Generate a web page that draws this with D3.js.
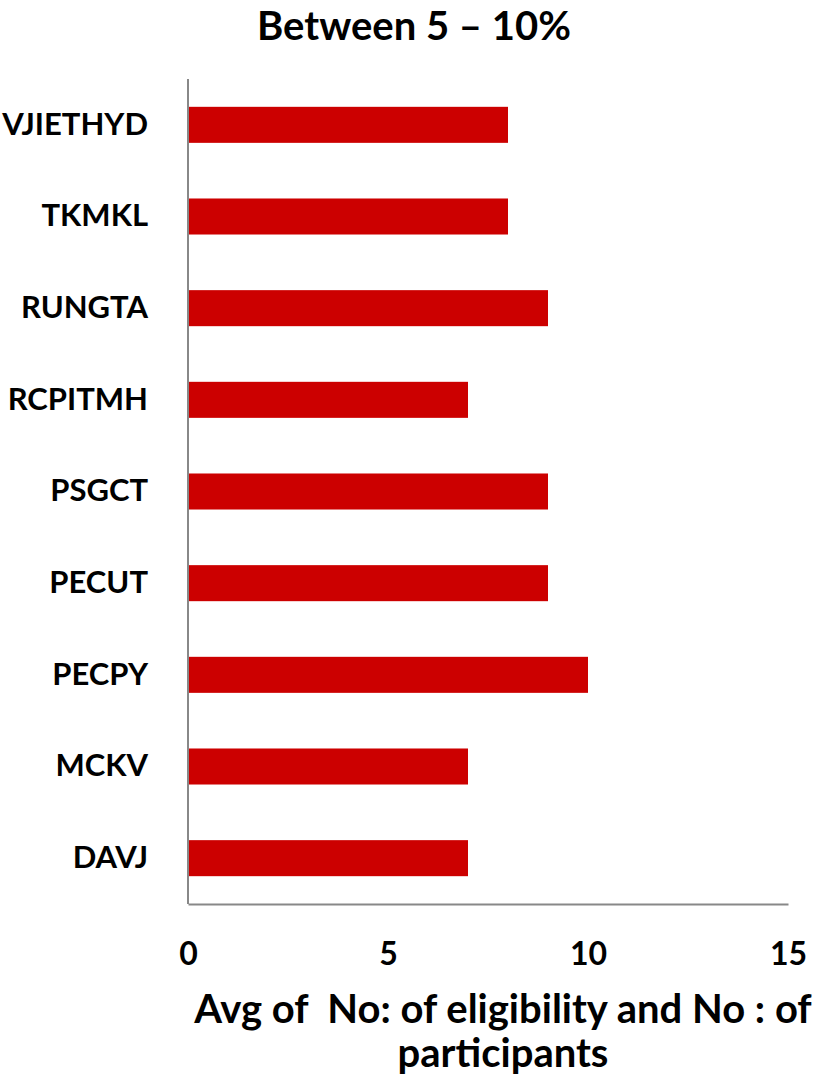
<!DOCTYPE html>
<html>
<head>
<meta charset="utf-8">
<script src="https://cdn.jsdelivr.net/npm/d3@7"></script>
<style>
  html, body { margin: 0; padding: 0; background: #fff; }
  svg text { font-family: Lato, "Open Sans", sans-serif; font-weight: bold; fill: #000; white-space: pre; }
</style>
</head>
<body>
<svg id="chart" width="814" height="1083"></svg>
<script>
const categories = ["VJIETHYD", "TKMKL", "RUNGTA", "RCPITMH", "PSGCT", "PECUT", "PECPY", "MCKV", "DAVJ"];
const values = [8, 8, 9, 7, 9, 9, 10, 7, 7];
const tickValues = [0, 5, 10, 15];
const title = "Between 5 – 10%";
const axisTitleLines = ["Avg of  No: of eligibility and No : of", "participants"];

const svg = d3.select("#chart");
const mLeft = 188, mRight = 788, mTop = 79, mBottom = 904;

const x = d3.scaleLinear().domain([0, 15]).range([mLeft, mRight]);
const y = d3.scaleBand().domain(categories).range([mTop, mBottom]).paddingInner(0.607).paddingOuter(0.3035);

svg.append("text")
  .attr("x", 414).attr("y", 40)
  .attr("text-anchor", "middle")
  .style("font-size", "40px")
  .text(title);

svg.append("g").selectAll("rect")
  .data(categories)
  .join("rect")
  .attr("x", x(0))
  .attr("y", d => y(d))
  .attr("width", (d, i) => x(values[i]) - x(0))
  .attr("height", y.bandwidth())
  .attr("fill", "#cc0000");

const xAxis = svg.append("g").attr("transform", `translate(0,${mBottom})`)
  .call(d3.axisBottom(x).tickValues(tickValues).tickSize(0));
xAxis.select(".domain").attr("stroke", "#888").attr("stroke-width", 2);
xAxis.selectAll("text").style("font-size", "32px").attr("font-family", null)
  .attr("y", 61).attr("dy", null);

const yAxis = svg.append("g").attr("transform", `translate(${mLeft},0)`)
  .call(d3.axisLeft(y).tickSize(0).tickPadding(40));
yAxis.select(".domain").attr("stroke", "#888").attr("stroke-width", 2).attr("d", `M0,${mTop}V${mBottom}`);
yAxis.selectAll("text").style("font-size", "31px").attr("font-family", null);

svg.append("text")
  .attr("text-anchor", "middle")
  .style("font-size", "40px")
  .selectAll("tspan")
  .data(axisTitleLines)
  .join("tspan")
  .attr("x", 503)
  .attr("y", (d, i) => 1023 + i * 44)
  .text(d => d);
</script>
</body>
</html>
